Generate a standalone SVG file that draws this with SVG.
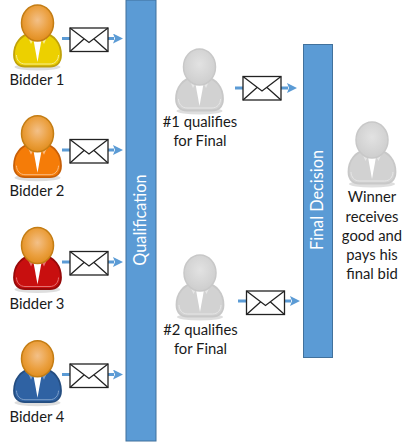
<svg xmlns="http://www.w3.org/2000/svg" width="402" height="444" viewBox="0 0 402 444">
<style>
text{font-family:"Lato","Carlito","Open Sans",sans-serif;font-size:14.800px;fill:#1a1a1a;text-anchor:middle}
.bar{fill:#5b9bd5;stroke:#41719c;stroke-width:1}
text.bt{fill:#fff;font-size:16.300px}
.wire{stroke:#5b9bd5;stroke-width:3;fill:none}
.env{fill:#fff;stroke:#222;stroke-width:1.3}
.head{fill:var(--hf);stroke:var(--hs);stroke-width:1.500}
.body{fill:var(--bf);stroke:var(--bs);stroke-width:1.800}
.in{fill:none;stroke:var(--li);stroke-width:1}
.col{fill:#fff}
.lap{fill:var(--li)}
.sh{fill:#000;opacity:.13}
.gold{--hf:url(#gh);--hs:#c47d14}
.gray{--hf:url(#ggh);--hs:#c8c8c8;--bf:#d2d2d2;--bs:#c8c8c8;--li:#e6e6e6}
.y{--bf:#ecd000;--bs:#c0a20a;--li:#f8ee90}
.o{--bf:#f57c08;--bs:#c75f08;--li:#fbbb80}
.r{--bf:#c80f0f;--bs:#960a0a;--li:#e67070}
.b{--bf:#2f62a3;--bs:#244d80;--li:#7d9fc9}
</style>
<defs>
<radialGradient id="gh" cx=".5" cy=".42" r=".6"><stop offset="0" stop-color="#f3c088"/><stop offset=".6" stop-color="#eba040"/><stop offset="1" stop-color="#e08c1c"/></radialGradient>
<radialGradient id="ggh" cx=".5" cy=".42" r=".6"><stop offset="0" stop-color="#e2e2e2"/><stop offset="1" stop-color="#cdcdcd"/></radialGradient>
<marker id="ah" markerUnits="userSpaceOnUse" markerWidth="10" markerHeight="10" refX="1" refY="5" orient="auto"><path d="M0 0L10 5L0 10L2 5Z" fill="#5b9bd5"/></marker>
<g id="person">
<ellipse class="sh" cx="37.500" cy="67" rx="23" ry="3.500"/>
<path class="body" d="M14 55C14 43 21 35 31 33H44C54 35 61 43 61 55C61 63 56 66.500 50 66.500H25C19 66.500 14 63 14 55Z"/>
<path class="in" d="M16.500 55C16.500 60 20 64 25 64H50C55 64 58.500 60 58.500 55"/>
<path class="col" d="M33.500 40L41.500 40L37.500 62Z"/>
<path class="lap" d="M27 35L31 44L34 38L41 38L44 44L48 35Z"/>
<ellipse class="head" cx="37.500" cy="23" rx="16" ry="18"/>
</g>
<g id="env">
<rect class="env" x="0" y="0" width="38" height="23.500"/>
<path class="env" style="fill:none" d="M0 0L19 14.500L38 0M0 23.500L14 11M38 23.500L24 11"/>
</g>
</defs>
<g id="connectors">
<path class="wire" d="M62 38.500H70M108 38.500H114" marker-end="url(#ah)"/>
<path class="wire" d="M62 150H70M108 150H114" marker-end="url(#ah)"/>
<path class="wire" d="M62 262H70M108 262H114" marker-end="url(#ah)"/>
<path class="wire" d="M62 374.500H70M108 374.500H114" marker-end="url(#ah)"/>
<path class="wire" d="M235 88H243M281 88H288" marker-end="url(#ah)"/>
<path class="wire" d="M238 301H246M285 301H291" marker-end="url(#ah)"/>
</g>
<g id="bidder1"><use href="#person" class="gold y"/><use href="#env" x="70" y="28"/><text x="37" y="85">Bidder 1</text></g>
<g id="bidder2"><use href="#person" class="gold o" y="110.700"/><use href="#env" x="70" y="139.500"/><text x="37" y="196">Bidder 2</text></g>
<g id="bidder3"><use href="#person" class="gold r" y="222.500"/><use href="#env" x="70" y="251.500"/><text x="37" y="309">Bidder 3</text></g>
<g id="bidder4"><use href="#person" class="gold b" y="335.700"/><use href="#env" x="70" y="364"/><text x="37" y="422">Bidder 4</text></g>
<g id="qualification"><rect class="bar" x="126" y="0" width="30" height="441"/><text class="bt" transform="translate(146 220) rotate(-90)">Qualification</text></g>
<g id="qualifier1"><use href="#person" class="gray" x="162" y="44"/><use href="#env" x="243" y="76.500"/><text x="200" y="127">#1 qualifies</text><text x="200" y="146">for Final</text></g>
<g id="qualifier2"><use href="#person" class="gray" x="162.500" y="250"/><use href="#env" x="246.500" y="291"/><text x="200.500" y="335">#2 qualifies</text><text x="200.500" y="354">for Final</text></g>
<g id="final-decision"><rect class="bar" x="303.500" y="44.500" width="29" height="313"/><text class="bt" transform="translate(323 200) rotate(-90)">Final Decision</text></g>
<g id="winner"><use href="#person" class="gray" x="334.500" y="117"/><text x="372" y="202">Winner</text><text x="372" y="222">receives</text><text x="372" y="241">good and</text><text x="372" y="260">pays his</text><text x="372" y="279">final bid</text></g>
</svg>
